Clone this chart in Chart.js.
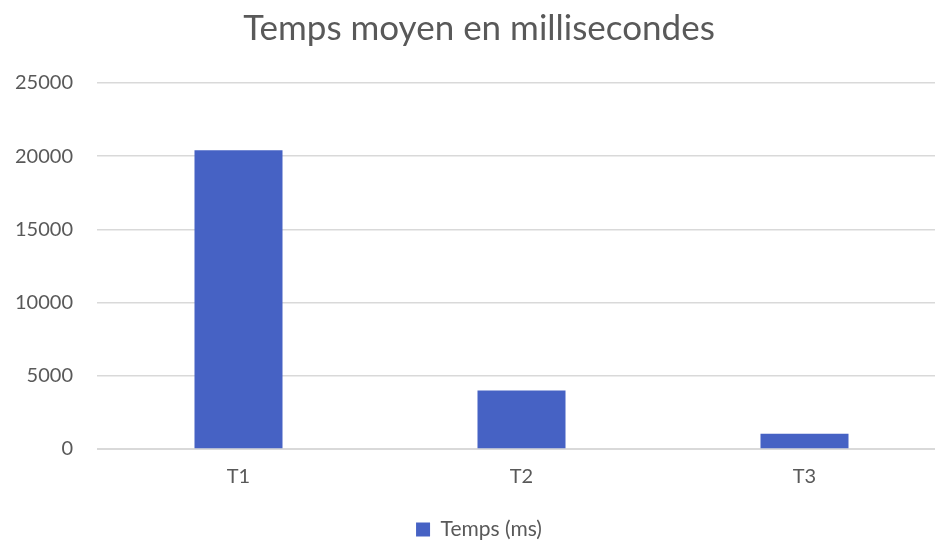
<!DOCTYPE html>
<html lang="fr">
<head>
    <meta charset="UTF-8">
    <title>Temps moyen en millisecondes</title>
    <script src="https://cdn.jsdelivr.net/npm/chart.js@4.4.0/dist/chart.umd.min.js"></script>
    <style>
        html, body { margin: 0; padding: 0; background: #fff; overflow: hidden; }
        .chart-container { position: relative; width: 946px; height: 540px; }
    </style>
</head>
<body>
    <div class="chart-container">
        <canvas id="tempsChart"></canvas>
    </div>

    <script>
        // Données
        const categories = ['T1', 'T2', 'T3'];
        const tempsMs = [20400, 4000, 1050];
        const yTicks = [0, 5000, 10000, 15000, 20000, 25000];

        const textColor = '#595959';
        const gridColor = '#d9d9d9';
        const barColor = '#4662c4';

        const ctx = document.getElementById('tempsChart').getContext('2d');
        new Chart(ctx, {
            type: 'bar',
            data: {
                labels: categories,
                datasets: [{
                    label: 'Temps (ms)',
                    data: tempsMs,
                    backgroundColor: barColor,
                    borderWidth: 0,
                    categoryPercentage: 1,
                    barPercentage: 0.311
                }]
            },
            options: {
                responsive: true,
                maintainAspectRatio: false,
                animation: false,
                layout: { padding: { left: 12, right: 0, top: 8, bottom: -10 } },
                plugins: {
                    title: {
                        display: true,
                        text: 'Temps moyen en millisecondes',
                        color: textColor,
                        font: { family: 'Lato', size: 35, weight: 'normal' },
                        padding: { top: 0, bottom: 33 }
                    },
                    legend: {
                        position: 'bottom',
                        labels: {
                            color: textColor,
                            font: { family: 'Lato', size: 21 },
                            boxWidth: 14,
                            boxHeight: 14,
                            padding: 4
                        }
                    },
                    tooltip: { enabled: false }
                },
                scales: {
                    x: {
                        grid: { display: false },
                        border: { display: true, color: gridColor, width: 1 },
                        ticks: {
                            color: textColor,
                            font: { family: 'Lato', size: 20 },
                            padding: 8
                        },
                        afterFit: (scale) => { scale.height += 18; }
                    },
                    y: {
                        min: 0,
                        max: 25000,
                        afterBuildTicks: (axis) => {
                            axis.ticks = yTicks.map(v => ({ value: v }));
                        },
                        grid: { color: gridColor, lineWidth: 1.5, drawTicks: false },
                        border: { display: false },
                        ticks: {
                            color: textColor,
                            font: { family: 'Lato', size: 20 },
                            padding: 24,
                            callback: (v) => String(v)
                        },
                        afterFit: (scale) => { scale.width = 85; }
                    }
                }
            }
        });
    </script>
</body>
</html>
